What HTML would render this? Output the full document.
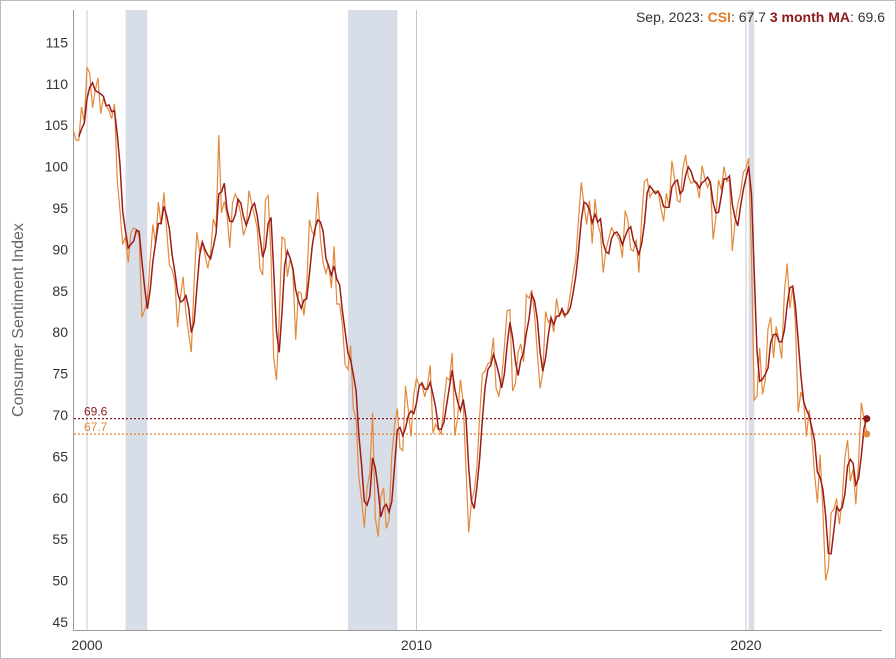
<!DOCTYPE html>
<html><head><meta charset="utf-8"><style>
body{margin:0;background:#fff;font-family:"Liberation Sans",sans-serif}
#wrap{position:absolute;left:0;top:0;width:894px;height:657px;border:1px solid #bbb;background:#fff}
svg{position:absolute;left:0;top:0}
</style></head><body>
<div id="wrap"></div>
<svg id="chart" width="896" height="659"></svg>
<script>
const startYear=1999, startMonth=7; // Aug 1999 (0-based month)
const csi=[104.4,103.2,103.2,107.2,105.4,
112.0,111.3,107.1,109.2,110.7,106.4,108.3,107.3,106.8,105.8,107.6,98.4,
94.7,90.6,91.5,88.4,92.0,92.6,92.4,91.5,81.8,82.7,83.9,88.8,
93.0,90.7,95.7,93.0,96.9,92.4,88.1,87.6,86.1,80.6,84.2,86.7,
82.4,79.9,77.6,86.0,92.1,89.7,90.9,89.3,87.7,89.6,93.7,92.6,
103.8,94.4,95.8,94.2,90.2,95.6,96.7,95.9,94.2,91.7,92.8,97.1,
95.5,94.1,92.6,87.7,86.9,96.0,96.5,89.1,76.9,74.2,81.6,91.5,
91.2,86.7,88.9,87.4,79.1,84.9,84.7,82.0,85.4,93.6,92.1,91.7,
96.9,91.3,88.4,87.1,88.3,85.3,90.4,83.4,83.4,80.9,76.1,75.5,
78.4,70.8,69.5,62.6,59.8,56.4,61.2,63.0,70.3,57.6,55.3,60.1,
61.2,56.3,57.3,65.1,68.7,70.8,66.0,65.7,73.5,70.6,67.4,72.5,
74.4,73.6,73.6,72.2,73.6,76.0,67.8,68.9,68.2,67.7,71.6,74.5,
74.2,77.5,67.5,69.8,74.3,71.5,63.7,55.8,59.5,60.8,63.7,69.9,
75.0,75.3,76.2,76.4,79.3,73.2,72.3,74.3,78.3,82.6,82.7,72.9,
73.8,77.6,78.6,76.4,84.5,84.1,85.1,82.1,77.5,73.2,75.1,82.5,
81.2,81.6,80.0,84.1,81.9,82.5,81.8,82.5,84.6,86.9,88.8,93.6,
98.1,95.4,93.0,95.9,90.7,96.1,93.1,91.9,87.2,90.0,91.3,92.6,
92.0,91.7,91.0,89.0,94.7,93.5,90.0,89.8,91.2,87.2,93.8,98.2,
98.5,96.3,96.9,97.0,97.1,95.0,93.4,96.8,95.1,100.7,98.5,95.9,
95.7,99.7,101.4,98.8,98.0,98.2,97.9,96.2,100.1,98.6,97.5,98.3,
91.2,93.8,98.4,97.2,100.0,98.2,98.4,89.8,93.2,95.5,96.8,99.3,
99.8,101.0,89.1,71.8,72.3,78.1,72.5,74.1,80.4,81.8,76.9,80.7,
79.0,76.8,84.9,88.3,82.9,85.5,81.2,70.3,72.8,71.7,67.4,70.6,
67.2,62.8,59.4,65.2,58.4,50.0,51.5,58.2,58.6,59.9,56.8,59.7,
64.9,67.0,62.0,63.5,59.2,64.4,71.5,69.5,67.7];
const yTicks=[45,50,55,60,65,70,75,80,85,90,95,100,105,110,115];
const xTicks=[2000,2010,2020];
const recessions=[[2001.17,2001.83],[2007.92,2009.42],[2020.08,2020.25]];

const X=t=>87+(t-2000)*32.95;
const Y=v=>415-(v-70)*8.28;
const svg=document.getElementById('chart');
const NS='http://www.w3.org/2000/svg';
function mk(tag,attrs,parent){const e=document.createElementNS(NS,tag);for(const k in attrs)e.setAttribute(k,attrs[k]);(parent||svg).appendChild(e);return e;}
const tOf=i=>startYear+(startMonth+i)/12;
const ma=csi.map((v,i)=>i<2?null:(csi[i]+csi[i-1]+csi[i-2])/3);

recessions.forEach(r=>{const e=mk('rect',{x:X(r[0]),y:10,width:X(r[1])-X(r[0]),height:620,fill:'#d8dee8'});

});
xTicks.forEach(t=>{const l=mk('line',{x1:X(t),x2:X(t),y1:10,y2:630,stroke:'#c8c8c8','stroke-width':1});


const tx=mk('text',{x:X(t),y:650,'text-anchor':'middle','font-size':14,fill:'#333'});tx.textContent=t;

});
yTicks.forEach(v=>{const tx=mk('text',{x:68,y:Y(v)+5,'text-anchor':'end','font-size':14,fill:'#333'});tx.textContent=v;

});
const ax=mk('path',{d:'M73.5 10 V630.5 H882',fill:'none',stroke:'#999','stroke-width':1});


const yt=mk('text',{x:0,y:0,transform:'translate(23,320) rotate(-90)','text-anchor':'middle','font-size':16,fill:'#666'});
yt.textContent='Consumer Sentiment Index';



const lastT=tOf(csi.length-1), lastC=csi[csi.length-1], lastM=ma[ma.length-1];
[[lastM,'#8b1a1a','ma-reference-line'],[lastC,'#e08a3c','csi-reference-line']].forEach(([v,c,n])=>{
const l=mk('line',{x1:74,x2:X(lastT),y1:Y(v),y2:Y(v),stroke:c,'stroke-width':1.3,'stroke-dasharray':'2,2'});


const tx=mk('text',{x:84,y:Y(v)-3,'font-size':12,fill:c});tx.textContent=v.toFixed(1);

});

let d1='';csi.forEach((v,i)=>{d1+=(i?'L':'M')+X(tOf(i)).toFixed(1)+' '+Y(v).toFixed(1);});
const p1=mk('path',{d:d1,fill:'none',stroke:'#e3893a','stroke-width':1.2});


let d2='';ma.forEach((v,i)=>{if(v==null)return;d2+=(i==2?'M':'L')+X(tOf(i)).toFixed(1)+' '+Y(v).toFixed(1);});
const p2=mk('path',{d:d2,fill:'none',stroke:'#9b1c1c','stroke-width':1.5});


const c1=mk('circle',{cx:X(lastT),cy:Y(lastC),r:3.5,fill:'#e3893a'});


const c2=mk('circle',{cx:X(lastT),cy:Y(lastM),r:3.5,fill:'#8b1a1a'});



const hd=mk('text',{x:885,y:22,'text-anchor':'end','font-size':14,fill:'#333'});


hd.innerHTML='Sep, 2023: <tspan fill="#e07b2a" font-weight="bold">CSI</tspan>: '+lastC.toFixed(1)+' <tspan fill="#8b1a1a" font-weight="bold">3 month MA</tspan>: '+lastM.toFixed(1);
</script>
</body></html>
